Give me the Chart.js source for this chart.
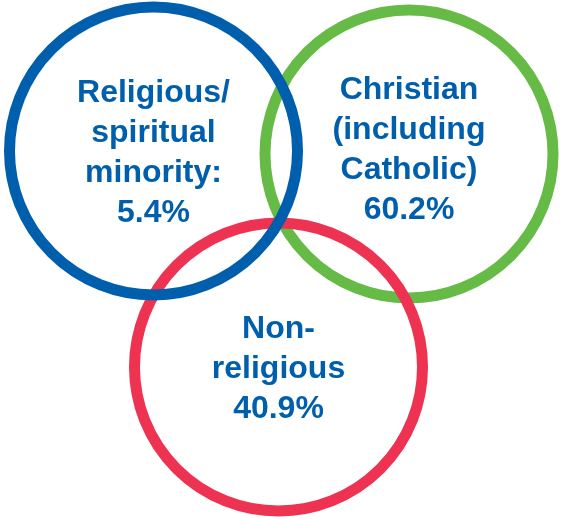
<!DOCTYPE html>
<html>
<head>
<meta charset="utf-8">
<script src="https://cdn.jsdelivr.net/npm/chart.js@4/dist/chart.umd.min.js"></script>
<style>
  html, body { margin: 0; padding: 0; background: #fff; }
  #wrap { width: 561px; height: 519px; position: relative; }
</style>
</head>
<body>
<div id="wrap"><canvas id="venn"></canvas></div>
<script>
// drawn in this order, so the last one sits on top
var groups = ["Christian (including Catholic)", "Non-religious", "Religious/spiritual minority"];
var shares = [60.2, 40.9, 5.4];
var centerX = [409, 278.5, 153.5];
var centerY = [154, 367, 151];
var labelLines = [
  ["Christian", "(including", "Catholic)", shares[0] + "%"],
  ["Non-", "religious", shares[1] + "%"],
  ["Religious/", "spiritual", "minority:", shares[2] + "%"]
];

var ringColors = ["#66bb46", "#ee3352", "#005fad"];

const vennLabels = {
  id: "vennLabels",
  afterDatasetsDraw(chart, args, opts) {
    const ctx = chart.ctx;
    const xs = chart.scales.x;
    const ys = chart.scales.y;
    ctx.save();
    ctx.font = "bold 32px 'Liberation Sans', Arial, sans-serif";
    ctx.fillStyle = "#005fad";
    ctx.textAlign = "center";
    ctx.textBaseline = "alphabetic";
    labelLines.forEach(function (lines, i) {
      var px = xs.getPixelForValue(centerX[i]);
      var py = ys.getPixelForValue(centerY[i]) + opts.shift[i];
      var lh = 40;
      lines.forEach(function (line, j) {
        var y = py - ((lines.length - 1) / 2) * lh + j * lh + 11;
        ctx.fillText(line, px, y);
      });
    });
    ctx.restore();
  }
};

new Chart(document.getElementById("venn"), {
  type: "bubble",
  data: {
    labels: groups,
    datasets: [
      {
        data: centerX.map(function (x, i) {
          return { x: x, y: centerY[i], r: 144 };
        }),
        backgroundColor: "rgba(0,0,0,0)",
        borderColor: ringColors,
        borderWidth: 11,
        hoverRadius: 0,
        clip: false,
      },
    ],
  },
  plugins: [vennLabels],
  options: {
    responsive: true,
    maintainAspectRatio: false,
    animation: false,
    events: [],
    layout: { padding: 0, autoPadding: false },
    scales: {
      x: { type: "linear", min: 0, max: 561, display: false },
      y: { type: "linear", min: 0, max: 519, reverse: true, display: false },
    },
    plugins: {
      legend: { display: false },
      tooltip: { enabled: false },
      vennLabels: { shift: [-6, 0, 0] },
    },
  },
});
</script>
</body>
</html>
